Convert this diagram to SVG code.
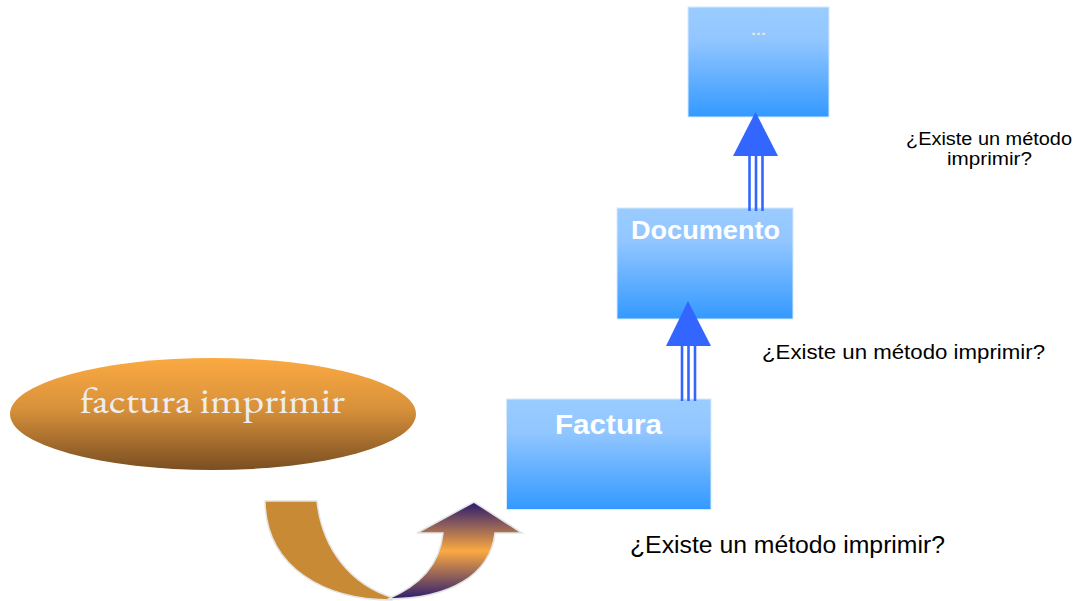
<svg xmlns="http://www.w3.org/2000/svg" width="1078" height="601" viewBox="0 0 1078 601">
  <defs>
    <linearGradient id="boxGrad" x1="0" y1="0" x2="0" y2="1">
      <stop offset="0" stop-color="#9ACCFF"/>
      <stop offset="0.3" stop-color="#92C6FF"/>
      <stop offset="1" stop-color="#3399FF"/>
    </linearGradient>
    <linearGradient id="ellGrad" x1="0" y1="0" x2="0" y2="1">
      <stop offset="0" stop-color="#FBAA42"/>
      <stop offset="0.45" stop-color="#D8913A"/>
      <stop offset="1" stop-color="#7A4E22"/>
    </linearGradient>
    <linearGradient id="upGrad" gradientUnits="userSpaceOnUse" x1="0" y1="502" x2="0" y2="600">
      <stop offset="0" stop-color="#2A1A70"/>
      <stop offset="0.5" stop-color="#FBA941"/>
      <stop offset="1" stop-color="#2A1A70"/>
    </linearGradient>
    <style>
      .box { fill: url(#boxGrad); stroke: #D6EAFF; stroke-width: 1; }
      .boxlabel { font-family: "Liberation Sans", Arial, sans-serif; font-weight: bold; fill: #FFFFFF; text-anchor: middle; }
      .q { font-family: "Liberation Sans", Arial, sans-serif; fill: #000000; }
      .head { fill: #3366FF; }
      .stem { stroke: #3366FF; stroke-width: 2.6; fill: none; }
    </style>
  </defs>

  <g id="node-top">
    <rect class="box" x="688" y="7" width="141" height="110"/>
    <text class="boxlabel" x="758.5" y="35" font-size="14" textLength="15" lengthAdjust="spacingAndGlyphs" style="fill:#E6E6E6">...</text>
  </g>

  <g id="node-documento">
    <rect class="box" x="617" y="208" width="176" height="111"/>
    <text class="boxlabel" x="705.5" y="239" font-size="26" textLength="149" lengthAdjust="spacingAndGlyphs">Documento</text>
  </g>

  <g id="node-factura">
    <rect class="box" x="506.5" y="399" width="204.5" height="110.5"/>
    <text class="boxlabel" x="608.5" y="434" font-size="28" textLength="107" lengthAdjust="spacingAndGlyphs">Factura</text>
  </g>

  <g id="node-mensaje">
    <ellipse cx="213" cy="414" rx="203" ry="56" fill="url(#ellGrad)"/>
    <text x="212.5" y="413" font-family="'EB Garamond', 'Liberation Serif', 'Times New Roman', serif" font-size="37" fill="#EDEDED" text-anchor="middle" textLength="265" lengthAdjust="spacingAndGlyphs">factura imprimir</text>
  </g>

  <g id="curved-arrow">
    <path d="M265,501 L317,501 C322,548 350,585 394,598 L392,600 C325,600 266,568 265,501 Z" fill="#C98A36" stroke="#E4E4E4" stroke-width="1.5"/>
    <path d="M388,599 C420,585 440,565 443,533 L417,533 L474,502 L522,533 L495,533 C490,575 450,599 388,599 Z" fill="url(#upGrad)" stroke="#E4E4E4" stroke-width="1.5"/>
  </g>

  <g id="labels">
    <text class="q" x="989" y="145" font-size="17.5" text-anchor="middle" textLength="166" lengthAdjust="spacingAndGlyphs">¿Existe un método</text>
    <text class="q" x="989.5" y="165" font-size="17.5" text-anchor="middle" textLength="85" lengthAdjust="spacingAndGlyphs">imprimir?</text>
    <text class="q" x="762" y="359" font-size="21" textLength="283" lengthAdjust="spacingAndGlyphs">¿Existe un método imprimir?</text>
    <text class="q" x="630" y="553" font-size="23" textLength="315" lengthAdjust="spacingAndGlyphs">¿Existe un método imprimir?</text>
  </g>

  <g id="connectors">
    <g id="factura-to-documento">
      <line class="stem" x1="682" y1="345" x2="682" y2="401"/>
      <line class="stem" x1="688.5" y1="345" x2="688.5" y2="401"/>
      <line class="stem" x1="695" y1="345" x2="695" y2="401"/>
      <polygon class="head" points="688,301 711,346 666,346"/>
    </g>
    <g id="documento-to-top">
      <line class="stem" x1="749.5" y1="155" x2="749.5" y2="211"/>
      <line class="stem" x1="756" y1="155" x2="756" y2="211"/>
      <line class="stem" x1="762.5" y1="155" x2="762.5" y2="211"/>
      <polygon class="head" points="755.5,112 778,156 733,156"/>
    </g>
  </g>
</svg>
